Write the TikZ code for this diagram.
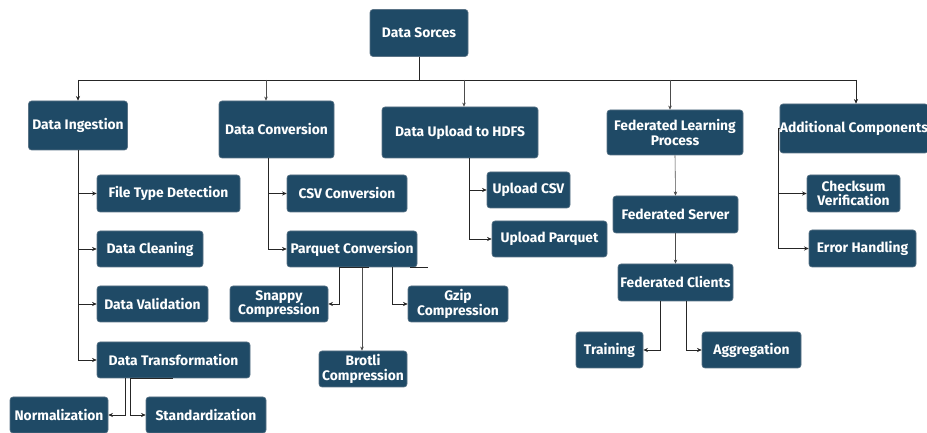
\documentclass[tikz,border=0pt]{standalone}
\usepackage{fontspec}
\setmainfont{Fira Sans}
\usetikzlibrary{arrows.meta}
\definecolor{boxblue}{HTML}{1F4A66}
\definecolor{boxedge}{HTML}{5A7386}
\tikzset{
  bx/.style 2 args={rectangle, rounded corners=2.5pt, fill=boxblue, draw=boxedge, line width=0.5pt,
    text=white, font=\fontsize{11.8}{12.5}\selectfont\bfseries, align=center, inner sep=0pt,
    minimum width=#1*0.03cm, minimum height=#2*0.03cm},
  conn/.style={draw=black!85, line width=0.8pt},
  arr/.style={conn, -{Stealth[length=4pt,width=3.5pt]}},
  thinarr/.style={draw=black!70, line width=0.5pt, -{Stealth[length=3.5pt,width=3pt]}}
}
\begin{document}
\begin{tikzpicture}[x=0.03cm, y=-0.03cm]
\useasboundingbox (0,0) rectangle (927,433);
\fill[white] (0,0) rectangle (927,433);
% nodes
\node[bx={98}{47}] (src) at (419,33) {Data Sorces};
\node[bx={99}{49}] (ing) at (78,125.5) {Data Ingestion};
\node[bx={115}{57}] (conv) at (276.5,129.5) {Data Conversion};
\node[bx={156}{51}] (upl) at (460,132.5) {Data Upload to HDFS};
\node[bx={136}{45}] (fl) at (675,132.5) {Federated Learning\\Process};
\node[bx={146}{49}] (add) at (854,128.5) {Additional Components};
\node[bx={143}{37}] (ftd) at (168.5,193.5) {File Type Detection};
\node[bx={106}{36}] (clean) at (150,249) {Data Cleaning};
\node[bx={111}{36}] (valid) at (152.5,304) {Data Validation};
\node[bx={153}{36}] (trans) at (173.5,360) {Data Transformation};
\node[bx={98}{36}] (norm) at (59,415) {Normalization};
\node[bx={120}{36}] (stand) at (206,415) {Standardization};
\node[bx={120}{37}] (csv) at (347,193.5) {CSV Conversion};
\node[bx={130}{36}] (parq) at (352,249) {Parquet Conversion};
\node[bx={98}{36}] (snappy) at (279,304) {Snappy\\Compression};
\node[bx={100}{36}] (gzip) at (458,304) {Gzip\\Compression};
\node[bx={88}{36}] (brotli) at (363,369) {Brotli\\Compression};
\node[bx={83}{36}] (ucsv) at (528.5,190) {Upload CSV};
\node[bx={115}{36}] (upar) at (549.5,239) {Upload Parquet};
\node[bx={125}{37}] (fserv) at (675.5,214.5) {Federated Server};
\node[bx={115}{37}] (fcli) at (675.5,282.5) {Federated Clients};
\node[bx={67}{36}] (train) at (609.5,350) {Training};
\node[bx={99}{36}] (aggr) at (751.5,350) {Aggregation};
\node[bx={93}{37}] (check) at (853.5,193.5) {Checksum\\Verification};
\node[bx={107}{37}] (err) at (862.5,248.5) {Error Handling};
% bus
\coordinate (b1) at (78,80);
\coordinate (b2) at (266,80);
\coordinate (b3) at (464,80);
\coordinate (b4) at (670,80);
\coordinate (b5) at (856,80);
\draw[conn] (src.south) |- (b1);
\draw[conn] (src.south) |- (b5);
\draw[arr] (b1) -- (ing.north);
\draw[thinarr] (b2) -- (b2 |- conv.north);
\draw[thinarr] (b3) -- (b3 |- upl.north);
\draw[thinarr] (b4) -- (b4 |- fl.north);
\draw[arr] (b5) -- (b5 |- add.north);
% ingestion
\draw[arr] (ing.south) |- (ftd.west);
\draw[arr] (ing.south) |- (clean.west);
\draw[arr] (ing.south) |- (valid.west);
\draw[arr] (ing.south) |- (trans.west);
\coordinate (tn) at (125,378);
\coordinate (ts) at (130,378);
\draw[arr] (tn) |- (norm.east);
\draw[arr] (ts) |- (stand.west);
\draw[conn] (ts) -- (173,378);
% conversion
\coordinate (ct) at (268,158);
\draw[arr] (ct) |- (csv.west);
\draw[arr] (ct) |- (parq.west);
\coordinate (ps) at (339,267);
\coordinate (pb) at (362,267);
\coordinate (pg) at (392,267);
\draw[arr] (ps) |- (snappy.east);
\draw[arr] (pg) |- (gzip.west);
\draw[thinarr] (pb) -- (pb |- brotli.north);
\draw[conn] (ps) -- (369,267);
\draw[conn] (410,267) -- (428,267);
% upload
\coordinate (ut) at (469,158);
\draw[arr] (ut) |- (ucsv.west);
\draw[arr] (ut) |- (upar.west);
% federated
\draw[thinarr] (fl.south) -- (fserv.north);
\draw[thinarr] (fserv.south) -- (fcli.north);
\coordinate (cl) at (660,301);
\coordinate (ca) at (686,301);
\draw[arr] (cl) |- (train.east);
\draw[arr] (ca) |- (aggr.west);
% additional
\coordinate (at) at (778,128.5);
\draw[conn] (add.west) -- (at);
\draw[arr] (at) |- (check.west);
\draw[arr] (at) |- (err.west);
\end{tikzpicture}
\end{document}
